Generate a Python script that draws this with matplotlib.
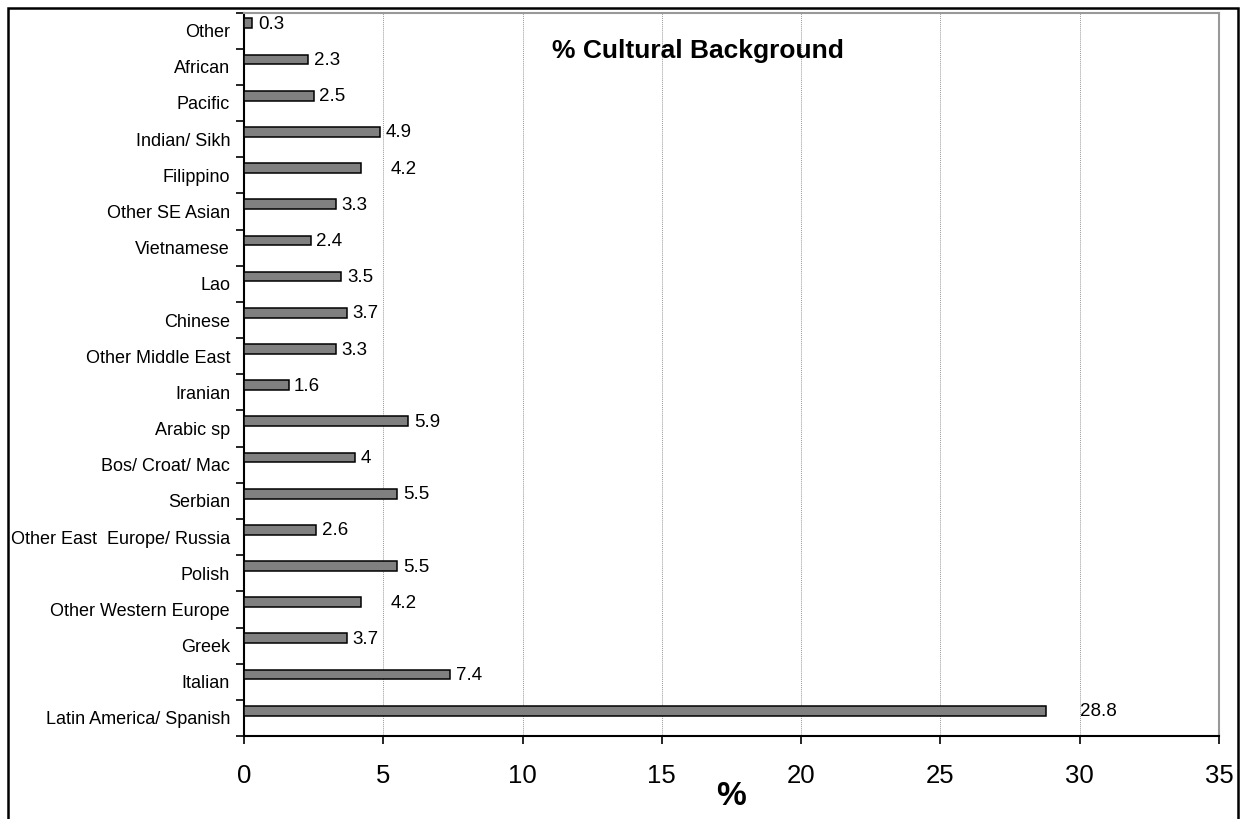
import matplotlib
matplotlib.use("Agg")
import matplotlib.pyplot as plt
from matplotlib.patches import Rectangle
import numpy as np

plt.rcParams['font.family'] = ['Liberation Sans', 'DejaVu Sans']

# bottom to top
categorias = ["Latin America/ Spanish", "Italian", "Greek", "Other Western Europe",
              "Polish", "Other East  Europe/ Russia", "Serbian", "Bos/ Croat/ Mac",
              "Arabic sp", "Iranian", "Other Middle East", "Chinese", "Lao",
              "Vietnamese", "Other SE Asian", "Filippino", "Indian/ Sikh",
              "Pacific", "African", "Other"]
porcentajes = [28.8, 7.4, 3.7, 4.2, 5.5, 2.6, 5.5, 4, 5.9, 1.6, 3.3, 3.7, 3.5,
               2.4, 3.3, 4.2, 4.9, 2.5, 2.3, 0.3]
xticks = [0, 5, 10, 15, 20, 25, 30, 35]

# etiquetas que van separadas de la barra
desplazamiento = {"Latin America/ Spanish": 1.0, "Filippino": 0.85,
                  "Other Western Europe": 0.85}

fig = plt.figure(figsize=(12.51, 8.19), dpi=100)
ax = fig.add_axes([0.195, 0.1013, 0.7794, 0.8834])

y = np.arange(len(categorias))
ax.barh(y + 0.2, porcentajes, height=0.27, color='#808080',
        edgecolor='black', linewidth=1.1, zorder=3)

for yi, cat, v in zip(y, categorias, porcentajes):
    extra = desplazamiento.get(cat, 0.0)
    ax.text(v + 0.2 + extra, yi + 0.17, f"{v:g}", va='center', ha='left',
            fontsize=13.5, zorder=4)

ax.set_xlim(0, 35)
ax.set_ylim(-0.5, len(categorias) - 0.5)
ax.set_xticks(xticks)
ax.tick_params(axis='x', direction='out', length=6, width=1.2, labelsize=18.5, pad=14)
ax.set_yticks(y)
ax.set_yticklabels(categorias, fontsize=13)
ax.set_yticks(np.arange(len(categorias) + 1) - 0.5, minor=True)
ax.tick_params(axis='y', which='major', length=0, pad=10)
ax.tick_params(axis='y', which='minor', direction='out', length=6, width=1.2)

ax.grid(axis='x', color='#999999', linestyle=(0, (1, 1)), linewidth=0.7, zorder=0)
ax.spines['left'].set_linewidth(1.5)
ax.spines['bottom'].set_linewidth(1.5)
ax.spines['top'].set_color('#999999')
ax.spines['right'].set_color('#999999')
ax.spines['top'].set_linewidth(1.5)
ax.spines['right'].set_linewidth(1.5)

ax.set_xlabel('%', fontsize=24, fontweight='bold', labelpad=-5)
ax.text(0.316, 0.947, '% Cultural Background', transform=ax.transAxes,
        fontsize=19, fontweight='bold', ha='left', va='center')

# marco exterior
fig.patches.append(Rectangle((8 / 1251, -0.05), 1230 / 1251, 1.05 - 8 / 819,
                             transform=fig.transFigure, fill=False,
                             edgecolor='black', linewidth=1.8))

fig.savefig('out.png', dpi=100)
